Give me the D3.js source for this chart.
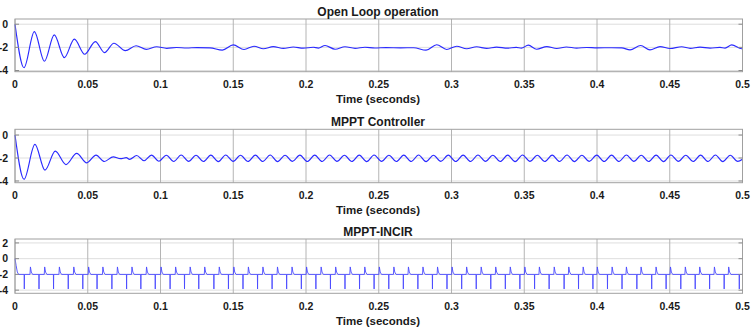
<!DOCTYPE html>
<html><head><meta charset="utf-8">
<script src="https://cdn.jsdelivr.net/npm/d3@7"></script>
<style>
body{margin:0;background:#fff}
svg{display:block}
text{font-family:"Liberation Sans",Arial,Helvetica,sans-serif;font-weight:bold;fill:#1a1a1a}
</style>
</head><body>
<svg id="chart" width="754" height="331"></svg>
<script>
// ---------------- data ----------------
const panelTitles = ["Open Loop operation", "MPPT Controller", "MPPT-INCIR"];
const xLabel = "Time (seconds)";
const xTicks = [0, 0.05, 0.1, 0.15, 0.2, 0.25, 0.3, 0.35, 0.4, 0.45, 0.5];
const xTickLabels = ["0", "0.05", "0.1", "0.15", "0.2", "0.25", "0.3", "0.35", "0.4", "0.45", "0.5"];
const yTicksOpen = [-4, -2, 0];
const yTicksMppt = [-4, -2, 0];
const yTicksIncir = [-4, -2, 0, 2];
const yDomainOpen = [-4.1, 0.45];
const yDomainMppt = [-4.15, 0.5];
const yDomainIncir = [-4.4, 2.5];

// Open loop: [time, value] extrema
const openLoop = [
  [0,0],[0.0062,-3.75],[0.0133,-0.64],[0.0202,-3.2],[0.027,-0.92],[0.0339,-2.88],
  [0.0408,-1.29],[0.0479,-2.59],[0.0552,-1.5],[0.0615,-2.45],[0.068,-1.64],[0.0758,-2.28],
  [0.0832,-1.86],[0.0903,-2.17],[0.0974,-1.95],[0.1043,-2.08],[0.111,-2.01],[0.118,-2.05],
  [0.125,-2.02],[0.134,-2.04],[0.1425,-2.24],[0.15,-1.79],[0.1574,-2.18],[0.1643,-1.9],
  [0.1707,-2.12],[0.1775,-1.94],[0.1844,-2.09],[0.1913,-1.97],[0.1981,-2.07],[0.205,-1.99],
  [0.2085,-2.06],[0.2131,-1.84],[0.22,-2.16],[0.2268,-1.95],[0.2337,-2.08],[0.2405,-1.99],
  [0.2474,-2.05],[0.255,-2.02],[0.265,-2.04],[0.274,-2.03],[0.2825,-2.24],[0.2898,-1.77],
  [0.2967,-2.18],[0.3036,-1.9],[0.3104,-2.12],[0.3173,-1.95],[0.3242,-2.09],[0.331,-1.98],
  [0.3385,-2.07],[0.3445,-2.0],[0.348,-2.06],[0.3528,-1.81],[0.3585,-2.16],[0.3655,-1.93],
  [0.3723,-2.1],[0.379,-1.97],[0.386,-2.06],[0.393,-2.01],[0.40,-2.04],[0.41,-2.03],
  [0.417,-2.04],[0.4227,-2.22],[0.43,-1.84],[0.4364,-2.22],[0.4433,-1.93],[0.4502,-2.1],
  [0.4582,-1.95],[0.464,-2.08],[0.4708,-1.98],[0.4777,-2.06],[0.4845,-2.0],[0.488,-2.06],
  [0.4926,-1.79],[0.4994,-2.12],[0.5,-2.12]
];

// MPPT controller: start-up transient, then steady ripple
const mpptTransient = [
  [0,0],[0.0062,-3.85],[0.0137,-0.81],[0.0206,-3.06],[0.0277,-1.4],[0.035,-2.57],
  [0.0424,-1.6],[0.0493,-2.42],[0.0557,-1.75],[0.0614,-2.3],[0.0675,-1.9],[0.0725,-2.06],
  [0.0765,-1.97],[0.0787,-2.12]
];
const mpptRipple = [
  [0.0836,-1.78],[0.0887,-2.24],[0.0938,-1.75],[0.0989,-2.28],[0.104,-1.76],[0.1091,-2.3],
  [0.1142,-1.74],[0.1193,-2.29],[0.1244,-1.76],[0.1295,-2.3],[0.1346,-1.75],[0.1397,-2.31],
  [0.1448,-1.74],[0.1499,-2.29],[0.155,-1.76],[0.1601,-2.3],[0.1652,-1.75],[0.1703,-2.3],
  [0.1754,-1.74],[0.1805,-2.31],[0.1856,-1.76],[0.1907,-2.29],[0.1958,-1.75],[0.2009,-2.3],
  [0.206,-1.75],[0.2111,-2.3],[0.2162,-1.74],[0.2213,-2.29],[0.2264,-1.76],[0.2315,-2.3],
  [0.2366,-1.75],[0.2417,-2.31],[0.2468,-1.74],[0.2519,-2.29],[0.257,-1.76],[0.2621,-2.3],
  [0.2672,-1.75],[0.2723,-2.3],[0.2774,-1.74],[0.2825,-2.31],[0.2876,-1.76],[0.2927,-2.29],
  [0.2978,-1.75],[0.3029,-2.3],[0.308,-1.75],[0.3131,-2.3],[0.3182,-1.74],[0.3233,-2.29],
  [0.3284,-1.76],[0.3335,-2.3],[0.3386,-1.75],[0.3437,-2.31],[0.3488,-1.74],[0.3539,-2.29],
  [0.359,-1.76],[0.3641,-2.3],[0.3692,-1.75],[0.3743,-2.3],[0.3794,-1.74],[0.3845,-2.31],
  [0.3896,-1.76],[0.3947,-2.29],[0.3998,-1.75],[0.4049,-2.3],[0.41,-1.75],[0.4151,-2.3],
  [0.4202,-1.74],[0.4253,-2.29],[0.4304,-1.76],[0.4355,-2.3],[0.4406,-1.75],[0.4457,-2.31],
  [0.4508,-1.74],[0.4559,-2.29],[0.461,-1.76],[0.4661,-2.3],[0.4712,-1.75],[0.4763,-2.3],
  [0.4814,-1.74],[0.4865,-2.31],[0.4916,-1.76],[0.4967,-2.29],[0.5,-2.1]
];

// MPPT-INCIR: start, baseline, spike times and spike levels
const incirStart = [[0,0],[0.0008,-0.9],[0.0016,-1.7],[0.0025,-2.0]];
const incirBase = -2.0;
const incirUpPeak = -1.05;
const incirDownPeak = -3.85;
const incirUpTimes = [
  0.0103,0.0201,0.0302,0.0401,0.0503,0.0601,0.0701,0.0801,0.0901,0.1001,
  0.1101,0.1201,0.1301,0.1401,0.1501,0.1601,0.1701,0.1801,0.1901,0.2001,
  0.2101,0.2201,0.2301,0.2401,0.2501,0.2601,0.2701,0.2801,0.2901,0.3001,
  0.3101,0.3201,0.3301,0.3401,0.3501,0.3601,0.3703,0.3803,0.3902,0.3999,
  0.4101,0.4199,0.4300,0.4403,0.4502,0.4604,0.4703,0.4804,0.4902
];
const incirDownTimes = [
  0.0063,0.0164,0.0264,0.0365,0.0465,0.0563,0.0665,0.0766,0.0864,0.0963,
  0.1065,0.1164,0.1262,0.1366,0.1466,0.1566,0.1666,0.1766,0.1866,0.1967,
  0.2067,0.2167,0.2267,0.2367,0.2467,0.2568,0.2668,0.2768,0.2868,0.2968,
  0.3069,0.3169,0.3269,0.3369,0.3469,0.3570,0.3670,0.3773,0.3872,0.3971,
  0.4071,0.4171,0.4273,0.4375,0.4474,0.4575,0.4674,0.4773,0.4873,0.4977
];

// ---------------- drawing ----------------
const svg = d3.select("#chart");
const X0 = 15, X1 = 742.5;
const panels = [
  {title: panelTitles[0], top: 19, bottom: 71.7, dom: yDomainOpen, ticks: yTicksOpen},
  {title: panelTitles[1], top: 129.3, bottom: 182.7, dom: yDomainMppt, ticks: yTicksMppt},
  {title: panelTitles[2], top: 239, bottom: 293.3, dom: yDomainIncir, ticks: yTicksIncir}
];
const x = d3.scaleLinear().domain([0, 0.5]).range([X0, X1]);

panels.forEach(p => {
  p.y = d3.scaleLinear().domain(p.dom).range([p.bottom, p.top]);
  const g = svg.append("g");
  g.append("rect").attr("x", X0).attr("y", p.top).attr("width", X1 - X0).attr("height", p.bottom - p.top).attr("fill", "#fff");
  g.selectAll(".hg").data(p.ticks).join("line")
    .attr("x1", X0).attr("x2", X1).attr("y1", d => p.y(d)).attr("y2", d => p.y(d))
    .attr("stroke", "#dedede").attr("stroke-width", 1);
  g.selectAll(".vg").data(xTicks).join("line")
    .attr("x1", d => x(d)).attr("x2", d => x(d)).attr("y1", p.top).attr("y2", p.bottom)
    .attr("stroke", "#b4b4b4").attr("stroke-width", 1);
  p.g = g;
});

const lineGen = (p, curve) => d3.line().x(d => x(d[0])).y(d => p.y(d[1])).curve(curve);
panels[0].g.append("path").datum(openLoop)
  .attr("d", lineGen(panels[0], d3.curveMonotoneX))
  .attr("fill", "none").attr("stroke", "#2a2aff").attr("stroke-width", 1.15);

panels[1].g.append("path").datum(mpptTransient.concat(mpptRipple))
  .attr("d", lineGen(panels[1], d3.curveMonotoneX))
  .attr("fill", "none").attr("stroke", "#2a2aff").attr("stroke-width", 1.15);

const events = [];
incirUpTimes.forEach(t => events.push({t, type: "up"}));
incirDownTimes.forEach(t => events.push({t, type: "down"}));
events.sort((a, b) => a.t - b.t);
const incir = incirStart.slice();
events.forEach(e => {
  if (e.type === "up") {
    incir.push([e.t, incirBase], [e.t + 0.0003, incirUpPeak], [e.t + 0.0009, incirBase + 0.3], [e.t + 0.0018, incirBase]);
  } else {
    incir.push([e.t, incirBase], [e.t + 0.0001, incirDownPeak], [e.t + 0.0002, incirBase]);
  }
});
incir.push([0.5, incirBase]);
panels[2].g.append("path").datum(incir)
  .attr("d", lineGen(panels[2], d3.curveLinear))
  .attr("fill", "none").attr("stroke", "#4a4aff").attr("stroke-width", 0.9);

panels.forEach(p => {
  const g = p.g;
  g.append("rect").attr("x", X0).attr("y", p.top).attr("width", X1 - X0).attr("height", p.bottom - p.top)
    .attr("fill", "none").attr("stroke", "#a0a0a0").attr("stroke-width", 1);
  g.selectAll(".ytl").data(p.ticks).join("line")
    .attr("x1", X0).attr("x2", X0 + 4).attr("y1", d => p.y(d)).attr("y2", d => p.y(d))
    .attr("stroke", "#8a8a8a");
  g.selectAll(".ytr").data(p.ticks).join("line")
    .attr("x1", X1 - 4).attr("x2", X1).attr("y1", d => p.y(d)).attr("y2", d => p.y(d))
    .attr("stroke", "#8a8a8a");
  g.selectAll(".ylab").data(p.ticks).join("text")
    .attr("x", 8).attr("y", d => p.y(d)).attr("dy", "0.36em")
    .attr("text-anchor", "end").attr("font-size", 10.5)
    .text(d => d3.format("d")(d).replace("−", "-"));
  g.selectAll(".xlab").data(xTicks).join("text")
    .attr("x", d => x(d)).attr("y", p.bottom + 16.5)
    .attr("text-anchor", "middle").attr("font-size", 10.5)
    .text((d, i) => xTickLabels[i]);
  g.append("text").attr("x", 378).attr("y", p.bottom + 31.5)
    .attr("text-anchor", "middle").attr("font-size", 11.5).text(xLabel);
  g.append("text").attr("x", 378).attr("y", p.top - 3.5)
    .attr("text-anchor", "middle").attr("font-size", 12).text(p.title);
});
</script>
</body></html>
